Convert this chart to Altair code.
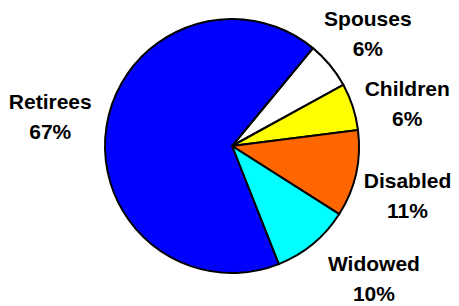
import math
import altair as alt
import pandas as pd

categories = ["Spouses", "Children", "Disabled", "Widowed", "Retirees"]
shares = [6, 6, 11, 10, 67]
colors = ["#FFFFFF", "#FFFF00", "#FF6600", "#00FFFF", "#0000FF"]

df = pd.DataFrame({
    "category": categories,
    "share": shares,
    "idx": list(range(len(categories))),
})
df["label"] = df.apply(lambda r: f"{r['category']}\n{r['share']}%", axis=1)

start = math.radians(39.6)
theta = alt.Theta("share:Q", stack=True,
                  scale=alt.Scale(range=[start, start + 2 * math.pi]))
order = alt.Order("idx:Q")

pie = alt.Chart(df).mark_arc(outerRadius=127, stroke="black", strokeWidth=2).encode(
    theta=theta,
    order=order,
    color=alt.Color("category:N", scale=alt.Scale(domain=categories, range=colors), legend=None),
)

# label placement (style): radius and small offsets per category
LH = 30
placement = {
    "Spouses": (175, 1, 1),
    "Children": (179, 5, 14),
    "Disabled": (186, -6, 10),
    "Widowed": (196, 17, -17),
    "Retirees": (184, 0, 1),
}

layers = [pie]
for cat, (r, dx, dy) in placement.items():
    layers.append(
        alt.Chart(df).mark_text(
            radius=r, dx=dx, dy=dy - LH / 2, font="Liberation Sans", fontWeight="bold",
            fontSize=21, lineBreak="\n", lineHeight=LH, align="center", baseline="middle",
            color="black",
        ).encode(
            theta=theta,
            order=order,
            text=alt.condition(alt.datum.category == cat, "label:N", alt.value("")),
        )
    )

chart = alt.layer(*layers).properties(
    width=438, height=276,
    autosize=alt.AutoSizeParams(type="none"),
    padding={"left": 5, "top": 0, "right": 0, "bottom": 26},
).configure_view(stroke=None)

chart.save("out.html", embed_options={"renderer": "svg", "actions": False})
